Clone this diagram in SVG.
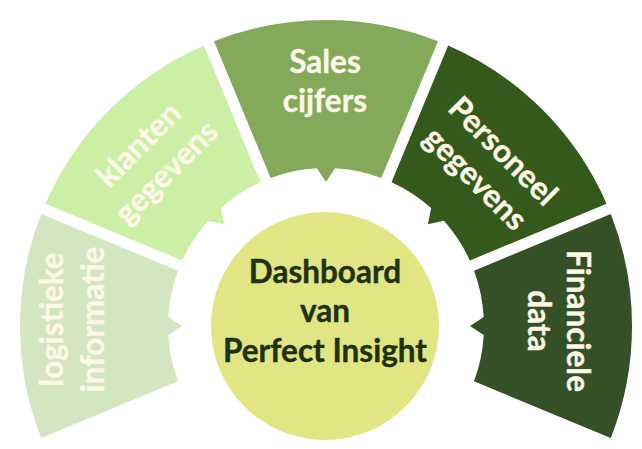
<svg xmlns="http://www.w3.org/2000/svg" xmlns:xlink="http://www.w3.org/1999/xlink" width="642" height="449" viewBox="0 0 642 449">
<style>
.seg-t{font-family:Lato,"Open Sans","Liberation Sans",sans-serif;font-weight:bold;font-size:31.5px;fill:#fcf7e6;text-anchor:middle;stroke:#fcf7e6;stroke-width:0.4}
.ctr-t{font-family:Lato,"Open Sans","Liberation Sans",sans-serif;font-weight:bold;font-size:31.5px;fill:#1f3311;text-anchor:middle;stroke:#1f3311;stroke-width:0.4}
</style>
<defs>
<path id="seg" d="M610.78,214 A306,306 0 0 1 610.78,438 L474,381.35 A158,158 0 0 0 483.74,335 L470,326 L483.74,317 A158,158 0 0 0 474,270.65 Z"/>
</defs>
<rect width="642" height="449" fill="#ffffff"/>
<g id="connectors"></g>
<g id="financiele">
<use xlink:href="#seg" fill="#354f27"/>
<g transform="translate(557.5,321) rotate(90)">
<text class="seg-t" x="0" y="-9">Financiele</text>
<text class="seg-t" x="0" y="30">data</text>
</g>
</g>
<g id="personeel">
<use xlink:href="#seg" fill="#35591b" transform="rotate(-45 326 326)"/>
<g transform="translate(489,165) rotate(45)">
<text class="seg-t" x="0" y="-9">Personeel</text>
<text class="seg-t" x="0" y="30">gegevens</text>
</g>
</g>
<g id="sales">
<use xlink:href="#seg" fill="#85a95b" transform="rotate(-90 326 326)"/>
<g transform="translate(325,82.5)">
<text class="seg-t" x="0" y="-9.5">Sales</text>
<text class="seg-t" x="0" y="29.5">cijfers</text>
</g>
</g>
<g id="klanten">
<use xlink:href="#seg" fill="#cdefa5" transform="rotate(-135 326 326)"/>
<g transform="translate(152.5,158.5) rotate(-45)">
<text class="seg-t" x="0" y="-9">klanten</text>
<text class="seg-t" x="0" y="30">gegevens</text>
</g>
</g>
<g id="logistieke">
<use xlink:href="#seg" fill="#d4e5c1" transform="rotate(-180 326 326)"/>
<g transform="translate(72.5,319.5) rotate(-90)">
<text class="seg-t" x="0" y="-9.5">logistieke</text>
<text class="seg-t" x="0" y="31.5">informatie</text>
</g>
</g>
<g id="dashboard">
<circle cx="325" cy="326" r="114" fill="#e1e584"/>
<text class="ctr-t" x="325" y="283">Dashboard</text>
<text class="ctr-t" x="325" y="322">van</text>
<text class="ctr-t" x="325" y="362">Perfect Insight</text>
</g>
</svg>
